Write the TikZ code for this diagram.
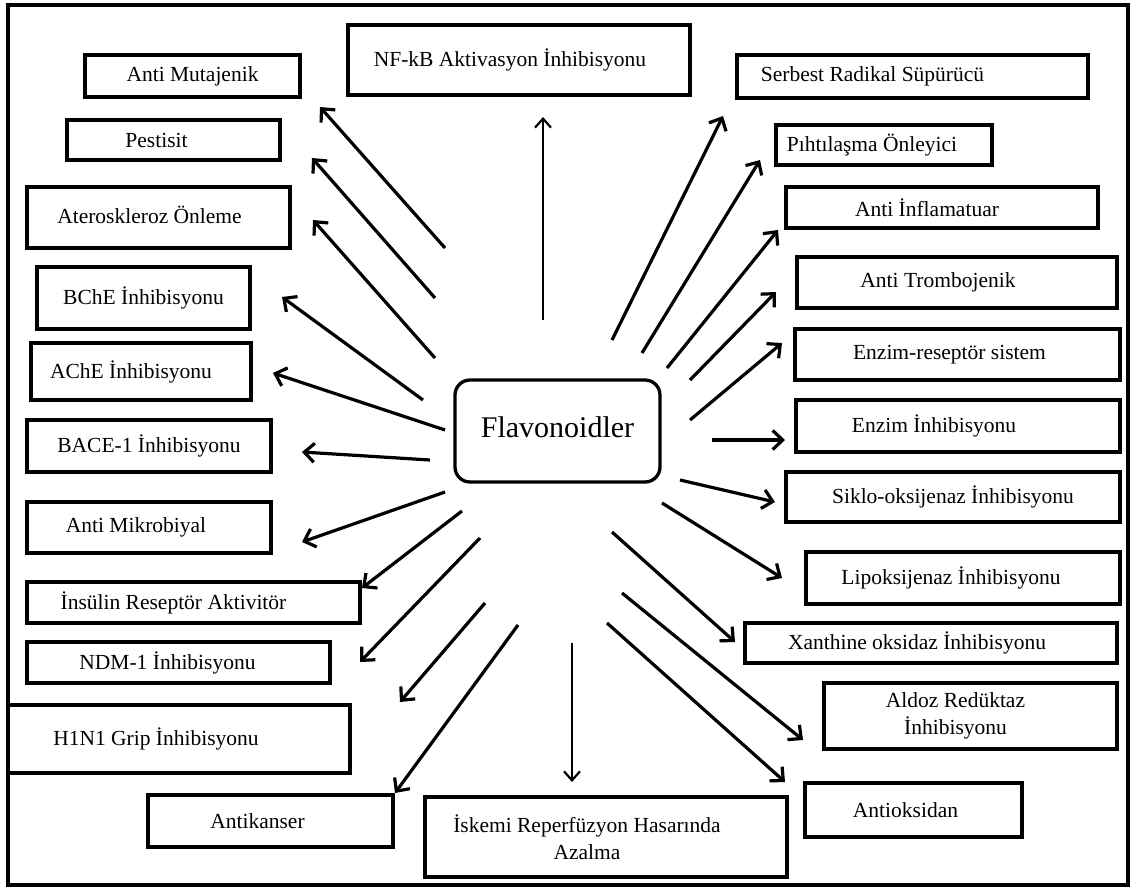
\documentclass[tikz,border=0pt]{standalone}
\usepackage{fontspec}
\setmainfont{Liberation Serif}
\usetikzlibrary{positioning,arrows.meta}

\newcommand{\boxtxt}[2]{\hspace*{-#1}#2\hspace*{#1}}

\begin{document}
\begin{tikzpicture}[x=1pt,y=-1pt,
                effect/.style={draw, line width=3.3pt, inner sep=0pt, align=center,
                    font=\fontsize{21.5}{27}\selectfont},
                ray/.style={line width=3.2pt, -{Straight Barb[length=10pt,width=19pt,line width=3.2pt]}},
                thinray/.style={line width=2.2pt, -{Straight Barb[length=9pt,width=16pt,line width=2.2pt]}},]
            \useasboundingbox (0,0) rectangle (1136,887);
            \draw[line width=3.5pt] (8,5) rectangle (1128,885);

            % centre
            \node[draw, line width=3.3pt, rounded corners=15pt, minimum width=205pt, minimum height=102pt,
                font=\fontsize{30}{34}\selectfont] (flav) at (557.5,431) {\raisebox{8pt}{Flavonoidler}};

            % left column
            \node[effect, minimum width=215pt, minimum height=42pt] (mut) at (192.5,76) {Anti Mutajenik};
            \node[effect, minimum width=213pt, minimum height=40pt] (pest) at (173.5,140) {\boxtxt{17pt}{Pestisit}};
            \node[effect, minimum width=263pt, minimum height=61pt] (ater) at (158.5,217.5) {\raisebox{5pt}{\boxtxt{9pt}{Ateroskleroz Önleme}}};
            \node[effect, minimum width=213pt, minimum height=62pt] (bche) at (143.5,298) {BChE İnhibisyonu};
            \node[effect, minimum width=220pt, minimum height=57pt] (ache) at (141,371.5) {\boxtxt{10pt}{AChE İnhibisyonu}};
            \node[effect, minimum width=244pt, minimum height=52pt] (bace) at (149,446) {BACE-1 İnhibisyonu};
            \node[effect, minimum width=244pt, minimum height=51pt] (mikro) at (149,527.5) {\boxtxt{13pt}{Anti Mikrobiyal}};
            \node[effect, minimum width=333pt, minimum height=41pt] (insul) at (193.5,602.5) {\boxtxt{20pt}{İnsülin Reseptör Aktivitör}};
            \node[effect, minimum width=303pt, minimum height=41pt] (ndm) at (178.5,662.5) {\boxtxt{11pt}{NDM-1 İnhibisyonu}};
            \node[effect, minimum width=342pt, minimum height=68pt] (hini) at (179,739) {\boxtxt{23pt}{H1N1 Grip İnhibisyonu}};
            \node[effect, minimum width=245pt, minimum height=52pt] (kanser) at (270.5,821) {\boxtxt{13pt}{Antikanser}};

            % bottom and top
            \node[effect, minimum width=362pt, minimum height=80pt] (iskemi) at (606,837) {\boxtxt{19pt}{İskemi Reperfüzyon Hasarında}\\\boxtxt{19pt}{Azalma}};
            \node[effect, minimum width=342pt, minimum height=70pt] (nfkb) at (519,60) {\raisebox{5pt}{\boxtxt{9pt}{NF-kB Aktivasyon İnhibisyonu}}};

            % right column
            \node[effect, minimum width=351pt, minimum height=43pt] (radikal) at (912.5,76.5) {\boxtxt{40pt}{Serbest Radikal Süpürücü}};
            \node[effect, minimum width=216pt, minimum height=40pt] (piht) at (884,145) {\boxtxt{12pt}{Pıhtılaşma Önleyici}};
            \node[effect, minimum width=312pt, minimum height=41pt] (infl) at (942,207.5) {\boxtxt{15pt}{Anti İnflamatuar}};
            \node[effect, minimum width=320pt, minimum height=51pt] (trombo) at (957,282.5) {\boxtxt{19pt}{Anti Trombojenik}};
            \node[effect, minimum width=325pt, minimum height=51pt] (enzres) at (957.5,354.5) {\boxtxt{8pt}{Enzim-reseptör sistem}};
            \node[effect, minimum width=324pt, minimum height=52pt] (enzinh) at (958,426) {\boxtxt{24pt}{Enzim İnhibisyonu}};
            \node[effect, minimum width=334pt, minimum height=50pt] (siklo) at (953,497) {Siklo-oksijenaz İnhibisyonu};
            \node[effect, minimum width=314pt, minimum height=52pt] (lipo) at (963,578) {\boxtxt{12pt}{Lipoksijenaz İnhibisyonu}};
            \node[effect, minimum width=372pt, minimum height=40pt] (xan) at (931,643) {\boxtxt{14pt}{Xanthine oksidaz İnhibisyonu}};
            \node[effect, minimum width=293pt, minimum height=66pt] (aldoz) at (970.5,716) {\boxtxt{15pt}{Aldoz Redüktaz}\\\boxtxt{15pt}{İnhibisyonu}};
            \node[effect, minimum width=217pt, minimum height=54pt] (oksi) at (913.5,810) {\boxtxt{8pt}{Antioksidan}};

            % arrow ends
            \coordinate (mutT) at (445,248);     \coordinate (mutH) at (320,107);
            \coordinate (pestT) at (435,298);    \coordinate (pestH) at (312,158);
            \coordinate (aterT) at (435,358);    \coordinate (aterH) at (313,220);
            \coordinate (bcheT) at (423,400);    \coordinate (bcheH) at (282,297);
            \coordinate (acheT) at (445,430);    \coordinate (acheH) at (273,373);
            \coordinate (baceT) at (430,460);    \coordinate (baceH) at (302,452);
            \coordinate (mikroT) at (445,492);   \coordinate (mikroH) at (302,542);
            \coordinate (insulT) at (462,511);   \coordinate (insulH) at (362,588);
            \coordinate (ndmT) at (480,538);     \coordinate (ndmH) at (360,662);
            \coordinate (hiniT) at (485,603);    \coordinate (hiniH) at (400,702);
            \coordinate (kanserT) at (518,625);  \coordinate (kanserH) at (395,793);
            \coordinate (iskemiT) at (572,643);  \coordinate (iskemiH) at (572,782);
            \coordinate (oksiT) at (607,623);    \coordinate (oksiH) at (785,782);
            \coordinate (aldozT) at (622,593);   \coordinate (aldozH) at (803,740);
            \coordinate (xanT) at (612,532);     \coordinate (xanH) at (735,642);
            \coordinate (lipoT) at (662,503);    \coordinate (lipoH) at (782,578);
            \coordinate (sikloT) at (680,480);   \coordinate (sikloH) at (775,502);
            \coordinate (enzinhT) at (712,440);  \coordinate (enzinhH) at (785,440);
            \coordinate (enzresT) at (690,420);  \coordinate (enzresH) at (782,343);
            \coordinate (tromboT) at (690,380);  \coordinate (tromboH) at (776,292);
            \coordinate (inflT) at (667,368);    \coordinate (inflH) at (778,230);
            \coordinate (pihtT) at (642,353);    \coordinate (pihtH) at (760,160);
            \coordinate (radikalT) at (612,340); \coordinate (radikalH) at (723,116);
            \coordinate (nfkbT) at (543,320);    \coordinate (nfkbH) at (543,117);

            % arrows
            \draw[ray] (mutT) -- (mutH);
            \draw[ray] (pestT) -- (pestH);
            \draw[ray] (aterT) -- (aterH);
            \draw[ray] (bcheT) -- (bcheH);
            \draw[ray] (acheT) -- (acheH);
            \draw[ray] (baceT) -- (baceH);
            \draw[ray] (mikroT) -- (mikroH);
            \draw[ray] (insulT) -- (insulH);
            \draw[ray] (ndmT) -- (ndmH);
            \draw[ray] (hiniT) -- (hiniH);
            \draw[ray] (kanserT) -- (kanserH);
            \draw[thinray] (iskemiT) -- (iskemiH);
            \draw[ray] (oksiT) -- (oksiH);
            \draw[ray] (aldozT) -- (aldozH);
            \draw[ray] (xanT) -- (xanH);
            \draw[ray] (lipoT) -- (lipoH);
            \draw[ray] (sikloT) -- (sikloH);
            \draw[ray] (enzinhT) -- (enzinhH);
            \draw[ray] (enzresT) -- (enzresH);
            \draw[ray] (tromboT) -- (tromboH);
            \draw[ray] (inflT) -- (inflH);
            \draw[ray] (pihtT) -- (pihtH);
            \draw[ray] (radikalT) -- (radikalH);
            \draw[thinray, line width=2.8pt] (nfkbT) -- (nfkbH);
        \end{tikzpicture}
\end{document}
